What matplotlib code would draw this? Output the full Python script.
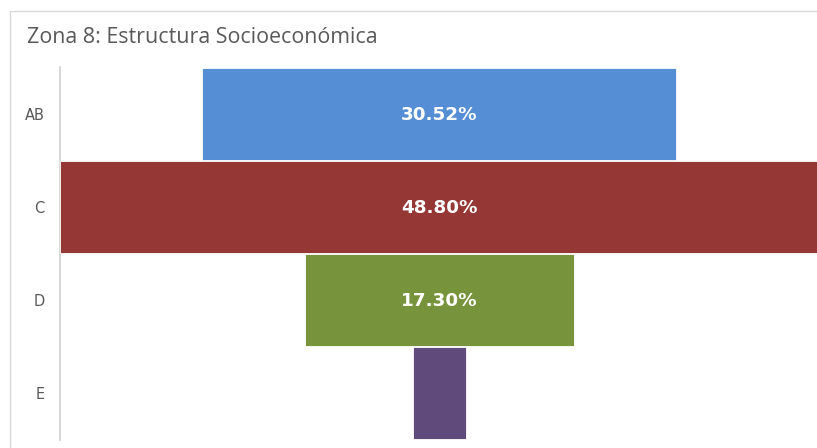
import matplotlib
matplotlib.use("Agg")
import matplotlib.pyplot as plt
from matplotlib.patches import Rectangle

categories = ["AB", "C", "D", "E"]
values = [30.52, 48.80, 17.30, 3.38]
labels = ["30.52%", "48.80%", "17.30%", ""]
colors = ["#558ED5", "#953735", "#77933C", "#604A7B"]
title = "Zona 8: Estructura Socioeconómica"

W, H = 817, 448
fig = plt.figure(figsize=(W / 100, H / 100), dpi=100)
fig.patch.set_facecolor("white")

# outer chart frame (extends beyond the image on right/bottom)
fig.patches.append(Rectangle((10 / W, -0.1), 1.2, 1 - 11 / H + 0.1,
                             transform=fig.transFigure, fill=False,
                             edgecolor="#D9D9D9", linewidth=1.0))

ax = fig.add_axes([60 / W, 1 - 440 / H, 1 - 60 / W, (440 - 67) / H])
y = list(range(len(categories)))
lefts = [-v / 2 for v in values]
ax.barh(y, values, left=lefts, height=0.985, color=colors,
        edgecolor="white", linewidth=0.6, clip_on=False)
for yi, lab in zip(y, labels):
    if lab:
        ax.text(0, yi + 0.01, lab, ha="center", va="center", color="white",
                fontsize=13.2, fontweight="bold", family="DejaVu Sans")

ax.set_xlim(-24.4, 24.3)
ax.set_ylim(len(categories) - 0.5, -0.5)
ax.set_yticks(y)
ax.set_yticklabels(categories, fontsize=10.5, color="#595959", family="DejaVu Sans")
ax.tick_params(axis="y", length=0, pad=11)
ax.set_xticks([])
for s in ["top", "right", "bottom"]:
    ax.spines[s].set_visible(False)
ax.spines["left"].set_color("#D0D0D0")
ax.spines["left"].set_linewidth(1.2)
ax.spines["left"].set_zorder(0)

fig.text(27 / W, 1 - 43 / H, title, ha="left", va="baseline", fontsize=15.4,
         color="#595959", family="Open Sans")

fig.savefig("out.png", dpi=100, facecolor="white")
